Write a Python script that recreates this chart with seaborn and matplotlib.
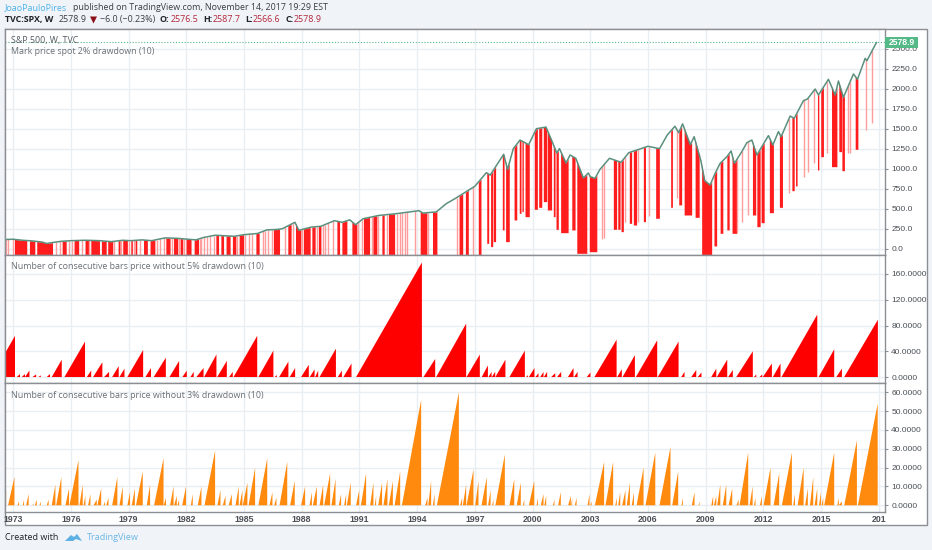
import numpy as np
import pandas as pd
import seaborn as sns
import matplotlib.pyplot as plt
from matplotlib.patches import Rectangle, Polygon

# S&P 500 hebdo
price_year = [1972.58, 1973.0, 1973.5, 1974.0, 1974.5, 1974.75, 1975.0, 1975.5, 1976.0, 1976.7, 1977.0, 1977.5,
              1978.1, 1978.7, 1979.1, 1979.7, 1980.2, 1980.9, 1981.5, 1982.5, 1982.9, 1983.5, 1984.5, 1985.0,
              1985.7, 1986.2, 1986.7, 1987.0, 1987.65, 1987.85, 1988.5, 1989.0, 1989.7, 1990.1, 1990.5, 1990.8,
              1991.2, 1992.0, 1993.0, 1994.1, 1994.3, 1995.0, 1995.5, 1996.0, 1997.0, 1997.6, 1997.8, 1998.5,
              1998.7, 1999.0, 1999.35, 1999.8, 2000.2, 2000.7, 2001.0, 2001.26, 2001.4, 2001.74, 2001.95, 2002.25,
              2002.64, 2002.9, 2003.0, 2003.25, 2003.5, 2004.0, 2004.6, 2005.0, 2006.0, 2006.6, 2007.0, 2007.4,
              2007.6, 2007.8, 2008.2, 2008.4, 2008.75, 2008.95, 2009.23, 2009.49, 2009.75, 2010.10, 2010.32, 2010.49,
              2010.88, 2011.14, 2011.40, 2011.66, 2012.26, 2012.49, 2012.78, 2012.92, 2013.39, 2013.60, 2014.08,
              2014.29, 2014.69, 2014.86, 2015.38, 2015.73, 2015.90, 2016.16, 2016.68, 2016.89, 2017.29, 2017.38,
              2017.67, 2017.88]
price_close = [115, 118, 105, 97, 83, 65, 75, 92, 100, 105, 104, 100,
               88, 105, 100, 110, 100, 135, 130, 110, 140, 168, 155, 175,
               190, 235, 240, 250, 330, 230, 270, 280, 350, 330, 360, 300,
               375, 415, 440, 475, 445, 460, 560, 630, 780, 950, 920, 1180,
               990, 1250, 1358, 1300, 1500, 1520, 1350, 1196, 1250, 1071, 1171, 1130,
               884, 946, 900, 880, 990, 1130, 1080, 1200, 1280, 1250, 1420, 1530,
               1450, 1560, 1300, 1400, 1100, 850, 796, 942, 1067, 1150, 1221, 1067,
               1213, 1325, 1358, 1171, 1413, 1296, 1463, 1400, 1658, 1629, 1850,
               1871, 1996, 1921, 2117, 1921, 2096, 1892, 2184, 2117, 2379, 2350,
               2484, 2578.9]

# barres rouges qui descendent jusqu'en bas du panneau
early_start = [1973.07, 1973.85, 1974.23, 1975.55, 1976.17, 1976.74, 1977.04, 1977.59, 1977.92, 1978.46, 1978.70,
               1979.12, 1979.34, 1979.78, 1980.12, 1980.94, 1981.34, 1981.68, 1981.99, 1982.41, 1983.54, 1983.80,
               1984.07, 1984.40, 1984.75, 1985.62, 1986.53, 1987.28, 1987.68, 1988.09, 1988.53, 1988.87, 1989.83,
               1990.09, 1990.61, 1991.21, 1991.70, 1992.17, 1992.51, 1994.16, 1994.80, 1996.18, 1996.51, 1997.18,
               2008.79]
early_end = [1973.71, 1974.13, 1975.05, 1975.76, 1976.41, 1976.92, 1977.49, 1977.84, 1978.18, 1978.56, 1978.94,
             1979.20, 1979.43, 1979.98, 1980.37, 1981.16, 1981.56, 1981.82, 1982.25, 1982.64, 1983.68, 1983.94,
             1984.28, 1984.58, 1984.98, 1985.79, 1986.85, 1987.45, 1987.96, 1988.44, 1988.70, 1989.00, 1989.97,
             1990.35, 1990.87, 1991.53, 1991.91, 1992.29, 1992.83, 1994.51, 1995.03, 1996.37, 1996.66, 1997.32,
             2009.31]

# barres rouges avec un plus bas lisible
drop_start = [1997.62, 1997.82, 1997.96, 1998.43, 1998.60, 1999.04, 1999.31, 1999.45, 1999.61, 2000.09, 2000.32,
              2000.56, 2000.77, 2001.08, 2001.22, 2001.46, 2002.04, 2002.30, 2002.95, 2004.20, 2004.43, 2004.60,
              2005.03, 2005.24, 2005.76, 2006.40, 2007.18, 2007.60, 2007.88, 2008.45, 2009.43, 2009.75, 2010.10,
              2010.37, 2011.43, 2011.66, 2011.88, 2012.31, 2012.83, 2013.48, 2013.67, 2014.81, 2014.98, 2015.54,
              2015.92, 2016.08, 2016.77]
drop_end = [1997.72, 1997.93, 1998.08, 1998.52, 1998.79, 1999.18, 1999.40, 1999.52, 1999.83, 2000.25, 2000.48,
            2000.74, 2000.99, 2001.17, 2001.34, 2001.85, 2002.21, 2002.82, 2003.34, 2004.37, 2004.55, 2004.72,
            2005.15, 2005.41, 2005.87, 2006.59, 2007.27, 2007.75, 2008.27, 2008.66, 2009.57, 2009.89, 2010.22,
            2010.62, 2011.60, 2011.83, 2012.04, 2012.52, 2012.99, 2013.60, 2013.75, 2014.88, 2015.12, 2015.82,
            2016.06, 2016.21, 2016.91]
drop_low = [67, 26, 88, 234, 88, 359, 442, 463, 400, 492, 517,
            588, 484, 400, 242, 200, 234, -58, -38, 242, 242, 213,
            317, 296, 338, 380, 517, 547, 421, 392, 34, 192, 234,
            192, 421, 275, 325, 450, 517, 725, 784, 984, 1150, 1025,
            1213, 975, 1242]

# barres fines (une seule semaine), plus pales
pale_year = [1972.64, 1972.98, 1975.22, 1975.44, 1975.93, 1980.64, 1982.79, 1982.90, 1983.07, 1983.24, 1985.24,
             1986.10, 1986.27, 1989.22, 1993.09, 1993.38, 1996.06, 1996.92, 2003.63, 2003.73, 2004.81, 2005.50,
             2006.07, 2007.49, 2010.65, 2010.91, 2011.22, 2013.32, 2014.12, 2014.32, 2014.64, 2015.28, 2016.42,
             2016.51, 2017.32, 2017.67]
pale_low = [-80, -80, -80, -80, -80, -80, -80, -80, -80, -80, -80,
            -80, -80, -80, -80, -80, -80, -80, 117, 130, 338, 338,
            409, 630, 213, 338, 421, 692, 900, 963, 1067, 1192, 1192,
            1192, 1484, 1567]
# les memes, avant 1995, jusqu'en bas du panneau
pale_early = [1972.76, 1976.05, 1976.57, 1976.97, 1978.27, 1978.61, 1979.00, 1979.26, 1979.60, 1980.47, 1980.82,
              1981.25, 1981.60, 1981.86, 1982.72, 1983.42, 1984.63, 1985.06, 1985.41, 1986.01, 1986.45, 1987.14,
              1987.57, 1988.01, 1988.79, 1989.10, 1989.39, 1989.65, 1990.95, 1991.13, 1991.65, 1991.99, 1992.42,
              1992.95, 1993.21, 1993.50, 1993.90, 1994.59]

# sans drawdown de 5% : debut, sommet, nombre de barres
saw5_start = [1971.87, 1973.19, 1973.45, 1973.62, 1974.01, 1974.32, 1974.75, 1975.01, 1975.67, 1976.83, 1977.16,
              1977.73, 1978.15, 1978.53, 1978.94, 1979.88, 1980.31, 1981.13, 1981.80, 1982.22, 1982.53, 1982.93,
              1983.61, 1984.23, 1984.46, 1985.75, 1986.60, 1986.83, 1987.38, 1987.97, 1988.42, 1988.70, 1988.93,
              1989.88, 1990.17, 1990.83, 1994.33, 1994.99, 1996.57, 1997.36, 1997.71, 1997.88, 1998.07, 1998.80,
              1999.67, 1999.81, 2000.15, 2000.40, 2000.59, 2000.97, 2001.28, 2001.84, 2002.16, 2002.82, 2003.22,
              2004.40, 2004.68, 2005.37, 2006.51, 2007.73, 2008.25, 2008.59, 2009.29, 2009.58, 2010.17, 2010.59,
              2011.51, 2011.80, 2011.97, 2012.49, 2012.94, 2014.87, 2015.79, 2016.20]
saw5_peak = [1973.10, 1973.36, 1973.62, 1973.85, 1974.20, 1974.44, 1974.92, 1975.53, 1976.74, 1977.06, 1977.64,
             1977.99, 1978.49, 1978.79, 1979.76, 1980.17, 1980.94, 1981.63, 1982.03, 1982.39, 1982.90, 1983.57,
             1984.11, 1984.42, 1985.69, 1986.53, 1986.71, 1987.31, 1987.66, 1988.37, 1988.67, 1988.86, 1989.78,
             1990.09, 1990.59, 1994.25, 1994.94, 1996.55, 1997.26, 1997.68, 1997.87, 1998.06, 1998.59, 1999.60,
             1999.76, 2000.10, 2000.31, 2000.57, 2000.76, 2001.18, 2001.49, 2002.13, 2002.34, 2003.01, 2004.37,
             2004.64, 2005.32, 2006.48, 2007.59, 2007.90, 2008.51, 2008.78, 2009.55, 2010.12, 2010.41, 2011.45,
             2011.63, 2011.94, 2012.44, 2012.89, 2014.80, 2015.68, 2016.08, 2017.95]
saw5_count = [64, 4.6, 4.6, 10, 4, 2.5, 4.6, 27, 55, 10, 23,
              8, 17, 13, 42, 14, 30, 25, 10, 8, 14, 35,
              25, 8, 64, 41, 3, 24, 14, 19, 12, 10, 44,
              10, 21, 178, 28, 83, 35, 18, 8, 8, 27, 41,
              3, 14, 6, 8, 8, 6, 8, 14, 8, 7, 58,
              12, 34, 57, 55, 8, 11, 7, 13, 27, 11, 40,
              4, 4, 21, 21, 97, 43, 13, 89]

# sans drawdown de 3%
saw3_start = [1972.50, 1972.74, 1973.23, 1973.50, 1973.68, 1974.01, 1974.13, 1974.37, 1974.75, 1975.01, 1975.24,
              1975.72, 1975.93, 1976.45, 1976.66, 1976.90, 1977.18, 1977.38, 1977.70, 1977.84, 1978.15, 1978.53,
              1978.94, 1979.17, 1979.39, 1979.95, 1980.33, 1980.83, 1981.16, 1981.37, 1981.54, 1981.79, 1982.24,
              1982.60, 1982.95, 1983.62, 1983.90, 1984.21, 1984.56, 1984.77, 1984.94, 1985.24, 1985.75, 1986.33,
              1986.57, 1986.85, 1987.40, 1987.97, 1988.41, 1988.58, 1988.93, 1989.17, 1989.55, 1989.93, 1990.21,
              1990.35, 1990.83, 1991.08, 1991.56, 1991.80, 1991.98, 1992.25, 1992.53, 1992.83, 1993.21, 1994.42,
              1994.58, 1994.82, 1995.03, 1996.24, 1996.38, 1996.57, 1997.02, 1997.35, 1997.69, 1997.90, 1998.07,
              1998.80, 1999.18, 1999.50, 1999.81, 2000.21, 2000.43, 2000.61, 2001.06, 2001.33, 2001.85, 2002.01,
              2002.20, 2002.86, 2003.00, 2003.24, 2003.79, 2004.30, 2004.45, 2004.66, 2004.90, 2005.16, 2005.41,
              2005.87, 2006.60, 2007.26, 2007.74, 2008.28, 2008.63, 2009.29, 2009.43, 2009.60, 2009.89, 2010.19,
              2010.60, 2010.76, 2011.28, 2011.51, 2011.82, 2012.01, 2012.53, 2012.96, 2013.55, 2013.78, 2014.17,
              2014.42, 2014.66, 2014.89, 2015.02, 2015.16, 2015.84, 2015.92, 2016.20, 2016.91]
saw3_peak = [1972.64, 1973.07, 1973.31, 1973.57, 1973.81, 1974.06, 1974.23, 1974.44, 1974.85, 1975.20, 1975.51,
             1975.91, 1976.40, 1976.62, 1976.76, 1977.02, 1977.35, 1977.58, 1977.78, 1977.96, 1978.42, 1978.70,
             1979.08, 1979.33, 1979.74, 1980.12, 1980.82, 1980.95, 1981.34, 1981.51, 1981.63, 1981.99, 1982.34,
             1982.79, 1983.50, 1983.78, 1984.04, 1984.37, 1984.73, 1984.92, 1985.18, 1985.58, 1986.21, 1986.48,
             1986.69, 1987.25, 1987.64, 1988.18, 1988.53, 1988.79, 1989.12, 1989.48, 1989.76, 1990.05, 1990.31,
             1990.55, 1990.99, 1991.35, 1991.73, 1991.87, 1992.18, 1992.46, 1992.74, 1993.12, 1994.21, 1994.54,
             1994.73, 1994.91, 1996.17, 1996.34, 1996.55, 1996.93, 1997.19, 1997.62, 1997.82, 1997.97, 1998.56,
             1999.05, 1999.39, 1999.57, 2000.09, 2000.28, 2000.57, 2000.71, 2001.14, 2001.47, 2001.99, 2002.06,
             2002.29, 2002.96, 2003.07, 2003.72, 2004.19, 2004.38, 2004.56, 2004.83, 2005.06, 2005.27, 2005.77,
             2006.38, 2007.17, 2007.57, 2007.81, 2008.42, 2008.68, 2009.39, 2009.55, 2009.76, 2010.07, 2010.38,
             2010.71, 2011.21, 2011.44, 2011.59, 2011.92, 2012.37, 2012.82, 2013.48, 2013.64, 2014.09, 2014.31,
             2014.59, 2014.80, 2014.99, 2015.11, 2015.68, 2015.92, 2016.08, 2016.86, 2017.94]
saw3_count = [8, 15, 2, 3, 6, 1, 3, 2, 3, 11, 15,
              9, 24, 11, 5, 6, 3, 9, 2, 4, 15, 10,
              7, 9, 18, 11, 25, 4, 10, 5, 3, 10, 6,
              10, 29, 8, 5, 6, 10, 8, 12, 20, 25, 7,
              4, 23, 13, 10, 7, 10, 11, 17, 14, 6, 6,
              12, 8, 17, 12, 5, 12, 14, 13, 18, 56, 4,
              13, 6, 60, 4, 11, 19, 13, 15, 8, 3, 27,
              14, 12, 3, 13, 4, 6, 5, 3, 7, 5, 4,
              4, 6, 2, 23, 23, 4, 7, 8, 12, 7, 20,
              28, 31, 18, 4, 7, 2, 5, 5, 11, 11, 9,
              3, 28, 10, 4, 5, 20, 17, 28, 6, 20, 9,
              15, 9, 7, 4, 28, 4, 2, 34.5, 54]

price_ticks = [0, 250, 500, 750, 1000, 1250, 1500, 1750, 2000, 2250, 2500]
count5_ticks = [0, 40, 80, 120, 160]
count3_ticks = [0, 10, 20, 30, 40, 50, 60]
year_ticks = [1973, 1976, 1979, 1982, 1985, 1988, 1991, 1994, 1997, 2000, 2003, 2006, 2009, 2012, 2015, 2018]
year_labels = ['1973', '1976', '1979', '1982', '1985', '1988', '1991', '1994', '1997', '2000', '2003', '2006',
               '2009', '2012', '2015', '201']

W, H = 932, 550
BG = '#f0f3f8'
EDGE = '#8b8f94'
GRID = '#e9eef3'
TXT = '#4a4f55'
FS = 6.4

sns.set_theme(style='white')
plt.rcParams['font.family'] = ['Open Sans', 'DejaVu Sans']
plt.rcParams['axes.unicode_minus'] = False

fig = plt.figure(figsize=(W / 100, H / 100), dpi=100, facecolor=BG)


def pane(top, bottom, ylim, ticks, fmt):
    ax = fig.add_axes([5 / W, 1 - bottom / H, 880 / W, (bottom - top) / H])
    ax.set_xlim(1972.58, 2018.32)
    ax.set_ylim(*ylim)
    ax.set_xticks(year_ticks)
    ax.set_yticks(ticks)
    ax.set_yticklabels([fmt % t for t in ticks], family='Liberation Sans', fontsize=6.0, color=TXT)
    ax.yaxis.tick_right()
    ax.tick_params(axis='y', length=2.5, width=0.8, color=EDGE, pad=2, right=True)
    ax.tick_params(axis='x', length=0)
    ax.set_xticklabels([])
    ax.grid(True, color=GRID, lw=1)
    ax.set_axisbelow(True)
    ax.set_facecolor('white')
    for s in ax.spines.values():
        s.set_color(EDGE)
        s.set_linewidth(1)
    return ax


# cadre blanc derriere les panneaux
fig.add_artist(Rectangle((5 / W, 1 - 525 / H), 922 / W, 496 / H, transform=fig.transFigure,
                         facecolor='white', edgecolor=EDGE, lw=1, zorder=-1))

ax1 = pane(29, 255, (-79, 2746), price_ticks, '%.1f')
ax2 = pane(255, 383, (-9.3, 189.5), count5_ticks, '%.4f')
ax3 = pane(383, 512, (-3.56, 64.95), count3_ticks, '%.4f')

# panneau du prix
floor = ax1.get_ylim()[0]
ax1.vlines(pale_year, pale_low, np.interp(pale_year, price_year, price_close), color='#ff9c9c', lw=1)
ax1.vlines(pale_early, floor, np.interp(pale_early, price_year, price_close), color='#ff9c9c', lw=1)
for s, e in zip(early_start, early_end):
    xs = np.linspace(s, e, 8)
    ax1.fill_between(xs, floor, np.interp(xs, price_year, price_close), color='#ff1c1c', lw=0)
for s, e, low in zip(drop_start, drop_end, drop_low):
    xs = np.linspace(s, e, 8)
    ax1.fill_between(xs, low, np.interp(xs, price_year, price_close), color='#ff1c1c', lw=0)

prices = pd.DataFrame({'year': price_year, 'close': price_close})
sns.lineplot(data=prices, x='year', y='close', ax=ax1, color='#5b8f7e', lw=1.1, estimator=None, sort=False)
ax1.axhline(price_close[-1], color='#53b987', lw=0.8, ls=(0, (1, 1.6)))
ax1.set_xlabel('')
ax1.set_ylabel('')

# panneaux des compteurs
for s, p, c in zip(saw5_start, saw5_peak, saw5_count):
    ax2.fill([s, p, p], [0, c, 0], color='#ff0000', lw=0)
for s, p, c in zip(saw3_start, saw3_peak, saw3_count):
    ax3.fill([s, p, p], [0, c, 0], color='#ff8a0d', lw=0)

ax3.set_xticklabels(year_labels, family='Liberation Sans', fontsize=6.3, color=TXT, fontweight='bold')
ax3.tick_params(axis='x', pad=2)

# titres des panneaux
ax1.text(11 / W, 1 - 40.5 / H, 'S&P 500, W, TVC', transform=fig.transFigure, fontsize=FS, color='#555a60', va='center')
ax1.text(11 / W, 1 - 52 / H, 'Mark price spot 2% drawdown (10)', transform=fig.transFigure, fontsize=FS, color='#6a6f75', va='center')
ax2.text(11 / W, 1 - 266.5 / H, 'Number of consecutive bars price without 5% drawdown (10)', transform=fig.transFigure, fontsize=FS, color='#6a6f75', va='center')
ax3.text(11 / W, 1 - 395 / H, 'Number of consecutive bars price without 3% drawdown (10)', transform=fig.transFigure, fontsize=FS, color='#6a6f75', va='center')

# etiquette du dernier cours
fig.add_artist(Rectangle((885 / W, 1 - 47.5 / H), 33 / W, 10.5 / H, transform=fig.transFigure, facecolor='#53b987', edgecolor='none', zorder=5))
fig.text(901.5 / W, 1 - 42.5 / H, '2578.9', family='Liberation Sans', fontsize=6.2, color='white', fontweight='bold',
         ha='center', va='center', zorder=6)

# en-tete
fig.text(5 / W, 1 - 8 / H, 'JoaoPauloPires', fontsize=FS, color='#4fb3e8', va='center')
fig.text(73 / W, 1 - 8 / H, 'published on TradingView.com, November 14, 2017 19:29 EST', fontsize=FS, color='#3a3f45', va='center')
header = [(5, 'TVC:SPX, W', '#20252b', 'bold'), (59, '2578.9', '#3a3f45', 'normal'),
          (100, '\u22126.0 (\u22120.23%)', '#3a3f45', 'normal'), (160, 'O:', '#20252b', 'bold'),
          (171, '2576.5', '#b5283c', 'normal'), (203, 'H:', '#20252b', 'bold'), (213, '2587.7', '#b5283c', 'normal'),
          (245, 'L:', '#20252b', 'bold'), (253, '2566.6', '#b5283c', 'normal'), (285, 'C:', '#20252b', 'bold'),
          (294, '2578.9', '#b5283c', 'normal')]
for x, txt, col, w in header:
    fig.text(x / W, 1 - 19.5 / H, txt, fontsize=FS, color=col, fontweight=w, va='center')
fig.add_artist(Polygon([(90 / W, 1 - 16.5 / H), (97 / W, 1 - 16.5 / H), (93.5 / W, 1 - 23.5 / H)],
                       transform=fig.transFigure, facecolor='#8c1018', edgecolor='none'))

# pied de page
fig.text(5 / W, 1 - 538 / H, 'Created with', fontsize=6.5, color='#20252b', va='center')
fig.text(87 / W, 1 - 538 / H, 'TradingView', fontsize=6.6, color='#6ab7e6', va='center')
fig.add_artist(Polygon([(65 / W, 1 - 541 / H), (71 / W, 1 - 535 / H), (74 / W, 1 - 537 / H), (77 / W, 1 - 534 / H),
                        (82 / W, 1 - 541 / H), (76 / W, 1 - 539 / H), (73 / W, 1 - 541 / H)],
                       transform=fig.transFigure, facecolor='#5cb0e4', edgecolor='none'))

plt.savefig('out.png', dpi=100, facecolor=BG)
